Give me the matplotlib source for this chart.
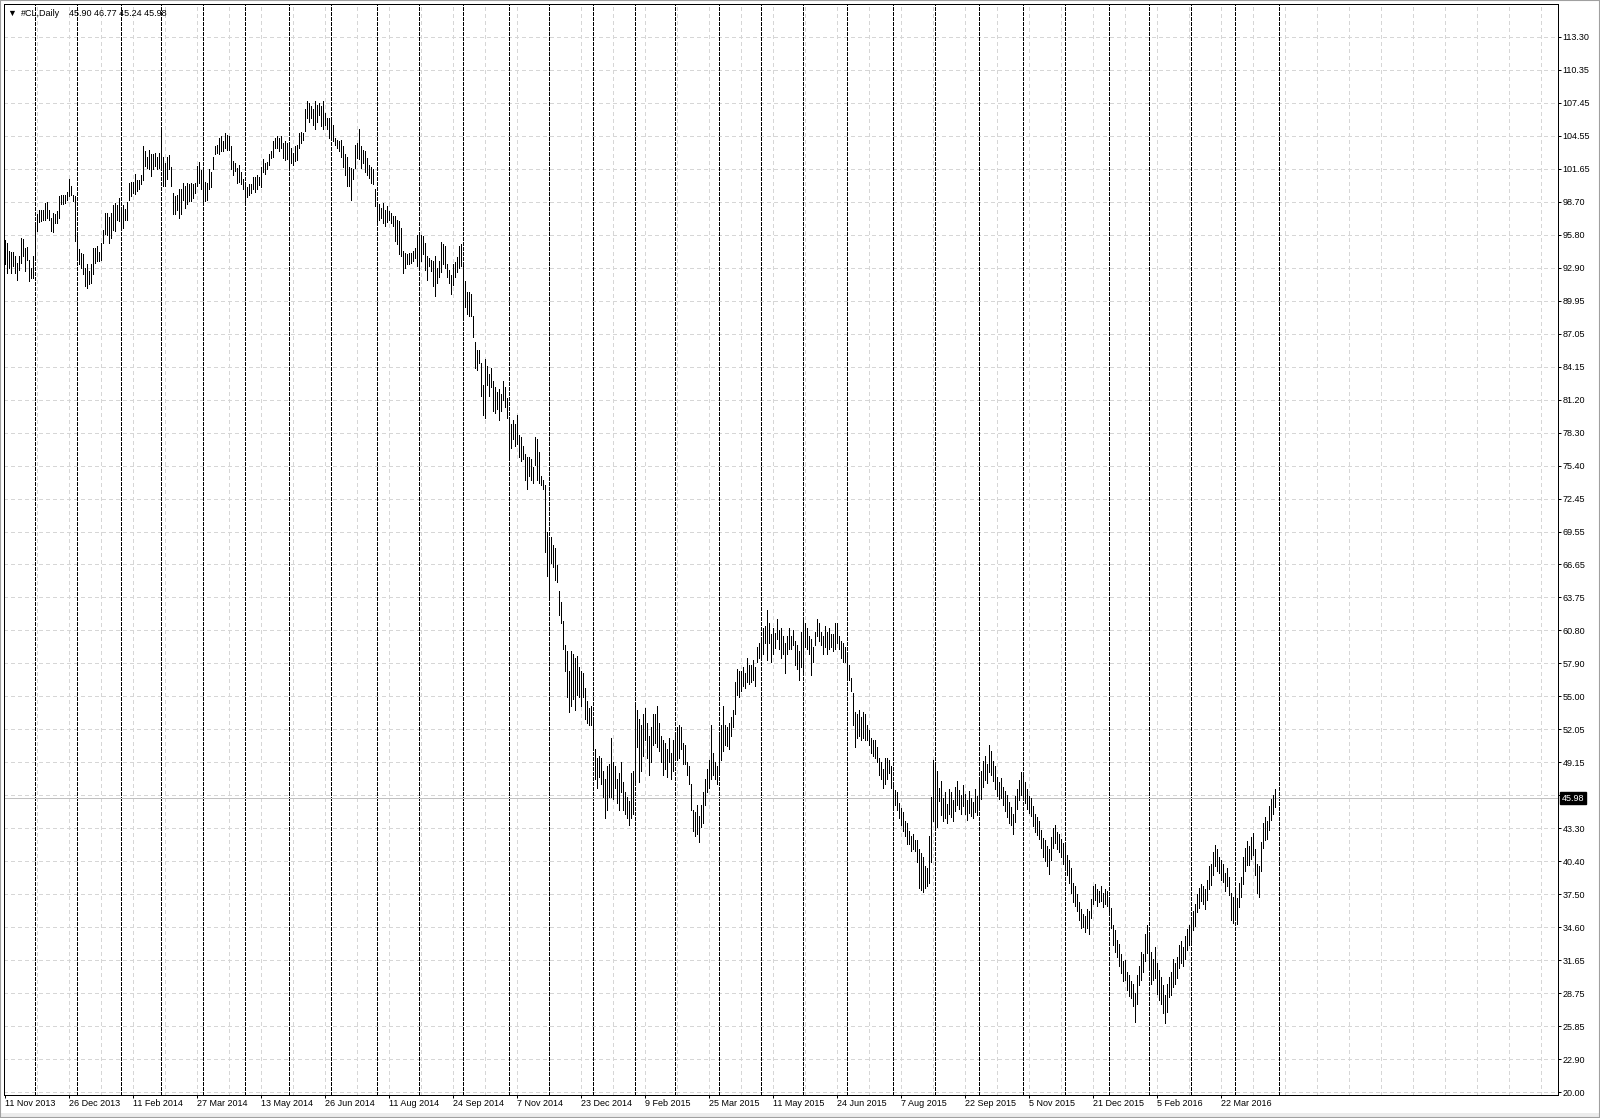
import numpy as np
import pandas as pd
import matplotlib
matplotlib.use('Agg')
import matplotlib.pyplot as plt
import matplotlib.transforms as mtransforms
from matplotlib.patches import Rectangle

plt.rcParams['font.family'] = ['Liberation Sans', 'DejaVu Sans']

# Chart header and last quote
symbol = '#CL,Daily'
last_ohlc = '45.90 46.77 45.24 45.98'
last_close = 45.98

# Daily bars start here, broker calendar skips these days
first_day = '2013-11-11'
holidays = ['2013-12-25', '2014-01-01', '2014-04-18', '2014-12-25', '2015-01-01',
            '2015-04-03', '2015-12-25', '2016-01-01', '2016-03-25']

x_labels = ['11 Nov 2013', '26 Dec 2013', '11 Feb 2014', '27 Mar 2014', '13 May 2014',
            '26 Jun 2014', '11 Aug 2014', '24 Sep 2014', '7 Nov 2014', '23 Dec 2014',
            '9 Feb 2015', '25 Mar 2015', '11 May 2015', '24 Jun 2015', '7 Aug 2015',
            '22 Sep 2015', '5 Nov 2015', '21 Dec 2015', '5 Feb 2016', '22 Mar 2016']
label_step = 32

y_labels = ['20.00', '22.90', '25.85', '28.75', '31.65', '34.60', '37.50', '40.40',
            '43.30', '46.25', '49.15', '52.05', '55.00', '57.90', '60.80', '63.75',
            '66.65', '69.55', '72.45', '75.40', '78.30', '81.20', '84.15', '87.05',
            '89.95', '92.90', '95.80', '98.70', '101.65', '104.55', '107.45', '110.35',
            '113.30']

# one line per month
highs = [
    95.3, 95.1, 94.4, 94.3, 94.3, 93.9, 93.3, 93.9, 95.5, 95.4, 94.6, 94.7, 93.6, 92.9, 93.9,
    96.85, 97.6, 97.97, 97.97, 97.97, 98.6, 98.7, 98.0, 97.3, 97.7, 97.6, 97.9, 99.2, 99.35, 99.3, 99.35, 99.6, 100.7, 100.1, 99.35, 99.2,
    95.67, 94.5, 94.2, 94.05, 92.9, 93.2, 92.6, 93.2, 94.6, 94.6, 94.8, 94.3, 95.1, 96.25, 97.7, 97.7, 97.4, 97.7, 98.4, 98.6, 98.4, 99.0,
    98.0, 98.4, 98.1, 98.7, 100.4, 100.5, 100.5, 101.2, 100.6, 100.6, 101.1, 103.6, 103.2, 102.7, 103.3, 102.9, 102.9, 103.0, 102.7, 103.0,
    105.1, 102.7, 102.1, 102.7, 102.8, 101.8, 99.5, 99.2, 99.35, 99.8, 99.8, 100.4, 100.1, 100.4, 100.3, 100.4, 100.3, 100.4, 101.9, 102.2, 101.5,
    101.6, 100.5, 100.4, 101.6, 101.3, 102.7, 103.6, 103.75, 104.35, 104.5, 104.05, 104.8, 104.6, 104.5, 103.6, 102.3, 102.1, 101.7, 102.0, 101.3, 100.7,
    100.2, 100.0, 100.3, 100.3, 100.9, 100.9, 101.1, 100.9, 101.8, 102.5, 102.1, 102.2, 102.9, 103.2, 104.05, 104.35, 104.5, 104.35, 104.5, 103.9, 104.05, 103.9,
    103.6, 103.5, 103.0, 103.6, 103.75, 104.8, 104.9, 104.8, 106.9, 107.6, 107.45, 107.15, 106.9, 107.6, 107.3, 107.45, 107.15, 107.6, 106.55, 106.1, 106.1,
    105.95, 105.5, 104.35, 104.2, 104.05, 104.2, 103.6, 102.9, 102.7, 101.8, 101.7, 101.6, 103.75, 103.9, 105.1, 103.6, 103.3, 103.2, 102.6, 102.0, 101.8, 101.6, 99.8,
    98.6, 98.5, 98.2, 98.6, 98.0, 98.3, 97.9, 97.7, 97.45, 97.45, 97.1, 97.0, 96.4, 94.35, 94.2, 94.05, 94.2, 94.2, 94.35, 94.6, 95.8,
    95.95, 95.8, 95.65, 95.1, 93.9, 93.75, 93.6, 93.5, 93.9, 92.9, 93.5, 95.15, 94.96, 94.77, 93.23, 92.66, 92.28, 93.23, 93.43, 93.81, 94.77, 94.96,
    93.04, 91.70, 90.74, 90.74, 90.55, 88.64, 86.34, 85.57, 85.57, 84.42, 82.51, 84.81, 84.23, 83.47, 84.04, 82.89, 82.32, 81.93, 82.13, 81.74, 82.89, 82.32, 81.36,
    79.45, 79.06, 79.45, 79.06, 79.83, 78.11, 77.91, 77.15, 76.38, 76.19, 76.19, 76.00, 75.23, 77.91, 77.72, 76.57, 74.47, 74.08, 73.70, 69.49,
    69.11, 69.11, 68.34, 68.15, 66.62, 64.32, 63.36, 61.64, 59.53, 58.96, 57.23, 58.96, 58.76, 58.38, 58.57, 57.61, 57.23, 57.04, 55.70, 54.55, 53.98, 54.17,
    53.21, 50.34, 49.57, 49.76, 49.57, 48.42, 47.66, 48.81, 49.00, 51.30, 49.19, 48.81, 47.66, 48.23, 49.19, 47.46, 46.51, 46.12, 45.74, 48.23, 48.42,
    54.17, 53.79, 53.02, 52.45, 53.40, 53.98, 52.64, 51.49, 52.26, 53.40, 53.4, 54.17, 52.64, 51.49, 51.10, 50.91, 50.34, 51.30, 49.95, 51.10,
    51.87, 52.26, 52.45, 52.26, 50.91, 50.72, 49.19, 48.81, 47.27, 44.98, 44.78, 45.36, 44.40, 45.36, 46.51, 47.66, 48.61, 49.38, 52.45, 49.95, 49.19, 48.81,
    51.49, 52.45, 54.17, 52.45, 52.3, 52.64, 53.21, 53.79, 56.27, 57.42, 57.23, 57.23, 57.61, 57.04, 58.38, 57.81, 57.81, 58.19, 57.61, 59.34, 59.72,
    60.10, 61.06, 61.25, 62.59, 61.44, 60.49, 61.06, 60.6, 61.83, 60.87, 61.06, 60.29, 59.72, 60.29, 61.06, 60.29, 60.87, 59.91, 59.53, 58.96, 60.68,
    61.64, 61.44, 61.06, 60.29, 60.10, 59.34, 60.68, 61.83, 61.44, 60.68, 60.29, 61.25, 60.68, 61.06, 60.49, 60.49, 61.44, 61.44, 60.29, 59.91, 59.72, 59.34,
    58.76, 57.81, 56.66, 55.32, 53.59, 53.40, 53.79, 53.21, 53.59, 53.40, 52.45, 52.06, 51.30, 51.10, 51.10, 50.53, 49.57, 49.19, 48.61, 49.57, 49.57, 49.38, 48.81,
    47.27, 46.70, 46.51, 45.55, 45.17, 44.78, 44.02, 43.83, 43.06, 42.68, 42.87, 42.30, 42.30, 41.53, 41.15, 40.76, 40.00, 39.80, 42.68, 46.12, 49.38,
    49.19, 48.42, 46.89, 47.5, 46.0, 46.5, 45.5, 46.8, 46.5, 45.8, 47.0, 47.5, 46.7, 46.3, 47.2, 46.4, 45.8, 46.6, 46.0, 45.7, 46.8, 46.2,
    47.5, 48.4, 49.3, 49.7, 49.0, 50.7, 50.2, 49.3, 48.8, 47.9, 47.4, 47.8, 47.0, 46.6, 46.3, 45.7, 45.2, 44.6, 46.2, 46.8, 47.6, 48.3,
    48.0, 47.4, 46.8, 46.2, 46.0, 45.3, 44.6, 44.3, 44.0, 43.2, 42.5, 42.3, 41.8, 41.5, 42.6, 43.4, 43.6, 43.0, 42.8, 42.4, 42.0,
    42.0, 41.0, 40.5, 39.8, 38.5, 38.2, 37.5, 36.8, 36.2, 35.8, 35.6, 36.2, 36.0, 37.1, 38.2, 38.4, 38.0, 37.8, 38.2, 37.6, 38.0, 37.8,
    37.0, 36.3, 34.8, 34.3, 33.5, 33.1, 32.2, 31.6, 31.7, 30.6, 30.4, 29.8, 29.6, 28.8, 30.4, 31.2, 32.4, 32.2, 34.0, 34.8,
    34.0, 32.4, 31.8, 32.8, 31.4, 30.8, 30.2, 29.5, 28.6, 29.6, 30.2, 30.6, 31.8, 31.4, 32.0, 33.0, 33.4, 32.8, 33.8, 34.4, 34.8,
    35.3, 36.0, 36.6, 37.5, 38.1, 38.4, 38.2, 38.0, 38.8, 40.0, 40.2, 41.2, 41.9, 41.5, 40.8, 40.5, 40.2, 39.4, 39.8, 39.0, 37.6, 37.3,
    37.8, 37.2, 38.5, 39.0, 40.8, 41.6, 42.2, 41.8, 42.6, 42.9, 41.5, 40.2, 40.0, 42.1, 43.8, 44.3, 44.0, 45.3, 45.9, 46.3, 46.77,
]
lows = [
    93.2, 92.4, 92.9, 92.4, 93.0, 92.4, 91.8, 92.7, 93.3, 93.9, 92.6, 93.6, 91.7, 92.0, 92.0,
    93.6, 96.1, 96.9, 97.0, 97.1, 97.1, 97.3, 97.1, 96.1, 96.0, 96.85, 96.85, 97.3, 98.5, 98.5, 98.6, 98.9, 99.2, 99.35, 98.8, 95.2,
    93.6, 93.2, 92.9, 92.3, 91.25, 91.1, 91.4, 91.5, 92.3, 93.3, 93.5, 93.5, 93.6, 95.1, 95.9, 95.75, 95.1, 95.5, 96.25, 96.1, 97.1, 97.0,
    96.25, 96.4, 97.1, 97.1, 98.9, 99.2, 99.5, 99.4, 99.7, 99.8, 100.3, 100.6, 101.9, 101.7, 101.6, 101.0, 101.6, 101.9, 101.6, 101.7,
    101.5, 100.1, 100.1, 100.7, 101.6, 100.1, 97.6, 97.6, 98.0, 97.3, 97.6, 98.9, 98.2, 98.5, 98.8, 98.8, 99.0, 99.5, 100.1, 100.4, 99.8,
    98.8, 98.8, 98.9, 99.8, 100.0, 101.6, 102.9, 103.0, 102.9, 103.2, 103.2, 103.5, 103.3, 103.3, 101.6, 101.1, 101.4, 100.4, 100.5, 100.3, 99.8,
    98.5, 99.1, 99.3, 99.5, 99.8, 99.6, 99.8, 100.2, 100.0, 101.3, 101.2, 101.6, 102.0, 102.6, 102.7, 103.5, 103.5, 103.2, 103.5, 102.6, 102.4, 102.5,
    101.6, 102.15, 102.0, 102.3, 102.4, 103.5, 103.9, 104.2, 104.95, 106.1, 105.8, 106.1, 105.5, 105.1, 105.8, 106.4, 105.4, 105.1, 105.5, 105.1, 104.35,
    104.2, 104.05, 103.75, 103.5, 103.2, 102.7, 101.8, 101.1, 100.1, 100.1, 98.9, 100.7, 101.7, 102.6, 102.5, 101.7, 102.1, 101.3, 101.1, 100.8, 100.4, 100.3, 98.3,
    96.85, 97.1, 97.3, 96.85, 96.6, 96.9, 97.1, 96.85, 96.55, 95.2, 95.0, 94.05, 93.9, 92.4, 92.9, 93.2, 93.2, 93.3, 93.5, 93.75, 93.0,
    93.0, 93.5, 94.05, 92.7, 91.8, 93.0, 92.6, 91.25, 90.35, 91.55, 92.1, 92.47, 93.23, 92.85, 92.09, 91.51, 90.55, 91.32, 92.09, 92.47, 92.85, 93.04,
    88.25, 89.40, 88.83, 88.64, 88.64, 86.72, 84.04, 83.85, 84.42, 81.55, 79.83, 79.64, 82.51, 81.55, 82.32, 80.21, 80.02, 80.40, 79.45, 80.21, 81.17, 80.60, 79.64,
    76.00, 76.96, 77.72, 77.15, 77.34, 76.19, 75.81, 76.00, 74.08, 73.32, 74.47, 74.08, 73.89, 75.42, 74.08, 73.89, 73.70, 73.32, 67.76, 65.66,
    63.55, 66.81, 66.42, 65.28, 65.09, 62.21, 61.44, 59.15, 57.23, 54.93, 53.59, 54.17, 54.74, 53.79, 55.12, 54.93, 54.17, 54.93, 53.02, 52.64, 52.45, 52.45,
    50.34, 47.66, 46.89, 47.85, 47.27, 46.12, 44.21, 44.98, 46.12, 46.12, 45.93, 46.89, 45.55, 44.98, 46.51, 44.98, 44.59, 44.21, 43.64, 44.21, 44.59,
    47.27, 50.53, 47.46, 48.42, 49.76, 51.10, 49.57, 48.04, 49.19, 50.72, 50.9, 50.53, 50.15, 49.19, 48.04, 48.61, 47.85, 49.19, 47.66, 48.42,
    49.57, 49.38, 49.57, 50.34, 49.00, 49.00, 48.04, 47.27, 44.98, 43.06, 42.68, 42.87, 42.10, 43.44, 43.83, 45.36, 46.51, 46.89, 47.66, 48.04, 47.66, 47.27,
    48.04, 49.38, 50.15, 50.72, 50.6, 50.34, 51.49, 52.26, 53.40, 55.12, 54.93, 55.51, 55.89, 55.70, 56.27, 56.08, 56.27, 56.47, 55.89, 58.00, 58.38,
    58.57, 58.76, 59.72, 58.19, 59.72, 58.00, 58.76, 59.3, 60.10, 59.15, 58.38, 58.76, 57.04, 58.76, 59.15, 59.15, 59.53, 57.81, 57.42, 56.47, 57.61,
    56.85, 59.34, 59.15, 58.76, 56.85, 58.00, 59.53, 60.29, 59.91, 59.53, 58.76, 59.34, 58.76, 59.15, 59.34, 58.96, 59.15, 59.72, 59.15, 58.38, 58.00, 58.00,
    56.66, 56.47, 55.51, 52.45, 50.53, 51.30, 51.49, 51.10, 51.30, 51.10, 51.10, 50.72, 49.95, 49.76, 49.57, 49.19, 48.04, 47.66, 46.89, 47.27, 47.66, 48.23, 46.89,
    44.98, 45.36, 44.98, 44.21, 43.64, 43.06, 42.68, 41.91, 41.91, 41.34, 41.53, 41.34, 40.38, 38.08, 37.89, 37.70, 38.08, 38.27, 38.46, 40.38, 44.02,
    43.44, 43.44, 45.74, 44.5, 44.0, 44.2, 43.8, 44.6, 44.3, 44.0, 44.9, 45.4, 45.0, 44.6, 45.3, 44.6, 44.1, 44.7, 44.4, 44.2, 44.8, 44.5,
    45.3, 45.9, 47.0, 47.6, 47.3, 48.3, 48.0, 47.5, 46.8, 46.2, 45.9, 46.0, 45.4, 44.9, 44.3, 43.8, 43.6, 42.8, 43.9, 45.0, 45.8, 46.3,
    46.0, 45.6, 45.0, 44.7, 44.4, 43.5, 43.0, 42.7, 42.4, 41.6, 40.8, 40.4, 40.0, 39.3, 40.5, 41.6, 42.0, 41.5, 41.2, 40.8, 40.2,
    40.0, 39.2, 38.5, 37.6, 36.8, 36.5, 36.0, 35.2, 34.5, 34.6, 34.2, 34.5, 34.0, 35.4, 36.6, 37.0, 36.5, 36.8, 36.9, 36.4, 36.6, 36.5,
    35.7, 34.5, 33.0, 32.4, 32.0, 31.2, 30.5, 29.8, 29.9, 29.0, 28.5, 28.3, 27.6, 26.2, 27.8, 29.5, 29.9, 30.6, 31.6, 32.3,
    31.0, 29.6, 29.9, 30.1, 28.7, 28.2, 27.8, 27.0, 26.1, 27.1, 28.4, 28.6, 29.3, 29.6, 30.1, 31.0, 31.4, 31.2, 31.8, 32.6, 33.0,
    33.4, 34.3, 34.7, 35.9, 36.3, 36.9, 36.6, 36.2, 37.0, 38.0, 38.3, 39.2, 40.0, 39.6, 39.4, 38.8, 38.6, 37.8, 38.2, 37.4, 35.2, 35.0,
    35.2, 34.9, 36.4, 37.3, 38.4, 39.6, 40.1, 40.1, 40.6, 41.0, 39.2, 37.6, 37.3, 39.6, 41.6, 42.3, 42.4, 43.2, 44.1, 44.6, 45.24,
]

n = len(highs)
bars = np.arange(n)
dates = pd.bdate_range(first_day, periods=n, freq='C', holidays=holidays)

W, H = 1600, 1118
fig = plt.figure(figsize=(W / 100, H / 100), dpi=100)
fig.patch.set_facecolor('white')
ax = fig.add_axes([4 / W, 1 - 1095 / H, 1554 / W, 1091 / H])
ax.set_facecolor('white')

# 2 px per bar, price scale from the terminal
ax.set_xlim(-0.5, 776.5)
ax.set_ylim(19.76, 116.19)

PX = 0.72  # one pixel in points
y_ticks = 20.0 + np.arange(len(y_labels)) * (113.30 - 20.0) / (len(y_labels) - 1)

# light grid
grid_color = '#d6d6d6'
for y in y_ticks:
    ax.axhline(y, color=grid_color, lw=PX, dashes=(3, 3), antialiased=False, zorder=1)
for x in range(16, 777, 16):
    ax.axvline(x, color=grid_color, lw=PX, dashes=(3, 3), antialiased=False, zorder=1)

# monthly period separators
month_starts = [i for i in range(1, n) if dates[i].month != dates[i - 1].month]
month_starts.append(n + 1)
for x in month_starts:
    ax.axvline(x, color='black', lw=PX, dashes=(3, 2), antialiased=False, zorder=2)

# bid line
ax.axhline(last_close, color='#c0c0c0', lw=PX, antialiased=False, zorder=2)

# high-low bars
ax.vlines(bars, lows, highs, colors='black', linewidth=PX, antialiased=False, zorder=3)

for s in ax.spines.values():
    s.set_color('black')
    s.set_linewidth(PX)

ax.yaxis.tick_right()
ax.set_yticks(y_ticks)
ax.set_yticklabels(y_labels)
ax.tick_params(axis='y', direction='out', length=2.2, width=PX, pad=1.2,
               labelsize=6.5, colors='black')

x_ticks = np.arange(len(x_labels)) * label_step
ax.set_xticks(x_ticks)
ax.set_xticklabels(x_labels)
ax.tick_params(axis='x', direction='out', length=2.2, width=PX, pad=1.0,
               labelsize=6.5, colors='black')
for lbl in ax.get_xticklabels():
    lbl.set_horizontalalignment('left')

# current price box on the scale
trans = mtransforms.blended_transform_factory(ax.transAxes, ax.transData)
ax.text(1.0022, last_close, '%.2f' % last_close, transform=trans, fontsize=6.5,
        color='white', va='center', ha='left', zorder=10, clip_on=False,
        bbox=dict(boxstyle='square,pad=0.18', facecolor='black', edgecolor='black'))

# header
fig.text(7 / W, 1 - 13 / H, '\u25bc', fontsize=6.5, va='center', ha='left', color='black')
fig.text(21 / W, 1 - 13 / H, symbol, fontsize=6.5, va='center', ha='left', color='#000000')
fig.text(69 / W, 1 - 13 / H, last_ohlc, fontsize=6.5, va='center', ha='left', color='black')

# window frame
fig.patches.append(Rectangle((0, 0), 1, 5 / H, transform=fig.transFigure,
                             facecolor='#ececec', edgecolor='none', zorder=0))
fig.patches.append(Rectangle((0, 0), 1, 1, transform=fig.transFigure, fill=False,
                             edgecolor='#a0a0a0', lw=1.5, zorder=0))

fig.savefig('out.png', dpi=100, facecolor='white')
